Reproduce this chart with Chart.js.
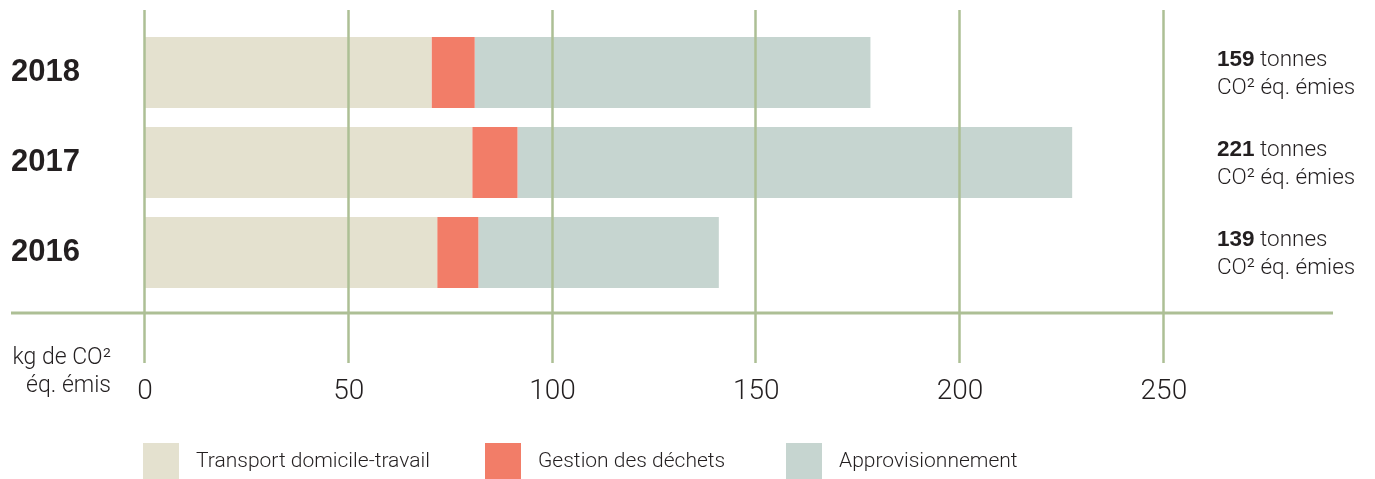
<!DOCTYPE html>
<html>
<head>
<meta charset="utf-8">
<script src="https://cdn.jsdelivr.net/npm/chart.js@4.4.7/dist/chart.umd.min.js"></script>
<style>
  html, body { margin: 0; padding: 0; background: #fff; }
</style>
</head>
<body>
<canvas id="co2Chart" width="1375" height="479"></canvas>
<script>
// data (kg CO2 eq.)
var YEARS = ["2018", "2017", "2016"];
var TRANSPORT = [70.3, 80.3, 71.7];
var DECHETS = [10.6, 11.1, 10.1];
var APPRO = [97.1, 136.1, 59.0];
var TONNES = ["159", "221", "139"];
var X_TICKS = [0, 50, 100, 150, 200, 250];
var X_MAX = 291.5;

var TEXT = "#231F20";
var GREEN = "#ADBF95";
var FAMILY = "Roboto, 'Liberation Sans', sans-serif";

var decor = {
    id: "decor",
    afterDatasetsDraw: function (chart) {
        var ctx = chart.ctx, area = chart.chartArea;
        var x = chart.scales.x, y = chart.scales.y;
        ctx.save();
        ctx.strokeStyle = GREEN;
        // vertical grid lines, drawn over the bars
        ctx.lineWidth = 2.5;
        X_TICKS.forEach(function (v) {
            var px = Math.round(x.getPixelForValue(v)) - 0.5;
            ctx.beginPath();
            ctx.moveTo(px, area.top - 17.5);
            ctx.lineTo(px, area.bottom + 65.5);
            ctx.stroke();
        });
        // base line
        ctx.lineWidth = 3;
        ctx.beginPath();
        ctx.moveTo(y.left, area.bottom + 15.5);
        ctx.lineTo(area.right, area.bottom + 15.5);
        ctx.stroke();
        ctx.restore();
    },
    afterDraw: function (chart) {
        var ctx = chart.ctx, area = chart.chartArea;
        var y = chart.scales.y;
        ctx.save();
        ctx.fillStyle = TEXT;
        ctx.textBaseline = "middle";
        ctx.textAlign = "left";

        // totals on the right
        var lx = area.right - 116;
        TONNES.forEach(function (t, i) {
            var cy = y.getPixelForValue(i);
            ctx.font = "bold 22.5px 'Liberation Sans', Arial, sans-serif";
            ctx.fillText(t, lx, cy - 12.5);
            var wBold = ctx.measureText(t).width;
            ctx.font = "300 22.5px " + FAMILY;
            ctx.fillText(" tonnes", lx + wBold, cy - 12.5);
            ctx.fillText("CO\u00B2 \u00E9q. \u00E9mies", lx, cy + 15.5);
        });

        // unit label
        ctx.font = "300 23px " + FAMILY;
        ctx.textAlign = "right";
        ctx.fillText("kg de CO\u00B2", 111, area.bottom + 61);
        ctx.fillText("\u00E9q. \u00E9mis", 111, area.bottom + 89);

        // legend
        var starts = [143, 485, 786];
        ctx.textAlign = "left";
        ctx.font = "300 21px " + FAMILY;
        chart.data.datasets.forEach(function (ds, i) {
            ctx.fillStyle = ds.backgroundColor;
            ctx.fillRect(starts[i], 443, 36, 36);
            ctx.fillStyle = TEXT;
            ctx.fillText(ds.label, starts[i] + 53, 462);
        });
        ctx.restore();
    }
};

new Chart(document.getElementById("co2Chart"), {
    type: "bar",
    data: {
        labels: YEARS,
        datasets: [
            { label: "Transport domicile-travail", data: TRANSPORT, backgroundColor: "#E4E1CF" },
            { label: "Gestion des d\u00E9chets", data: DECHETS, backgroundColor: "#F27D68" },
            { label: "Approvisionnement", data: APPRO, backgroundColor: "#C6D5D0" }
        ]
    },
    options: {
        indexAxis: "y",
        responsive: false,
        animation: false,
        layout: { padding: { left: 11, right: 42, top: 27.5, bottom: 0 } },
        datasets: { bar: { categoryPercentage: 1, barPercentage: 0.79, borderWidth: 0 } },
        plugins: { legend: { display: false }, tooltip: { enabled: false } },
        scales: {
            x: {
                stacked: true,
                min: 0,
                max: X_MAX,
                grid: { display: false },
                border: { display: false },
                afterBuildTicks: function (s) { s.ticks = X_TICKS.map(function (v) { return { value: v }; }); },
                afterFit: function (s) { s.height = 181.5; },
                ticks: { padding: 70, color: TEXT, font: { family: FAMILY, weight: "300", size: 28 } }
            },
            y: {
                stacked: true,
                grid: { display: false },
                border: { display: false },
                afterFit: function (s) { s.width = 134; },
                ticks: { crossAlign: "far", color: TEXT, font: { family: "'Liberation Sans', Arial, sans-serif", weight: "bold", size: 31 } }
            }
        }
    },
    plugins: [decor]
});
</script>
</body>
</html>
